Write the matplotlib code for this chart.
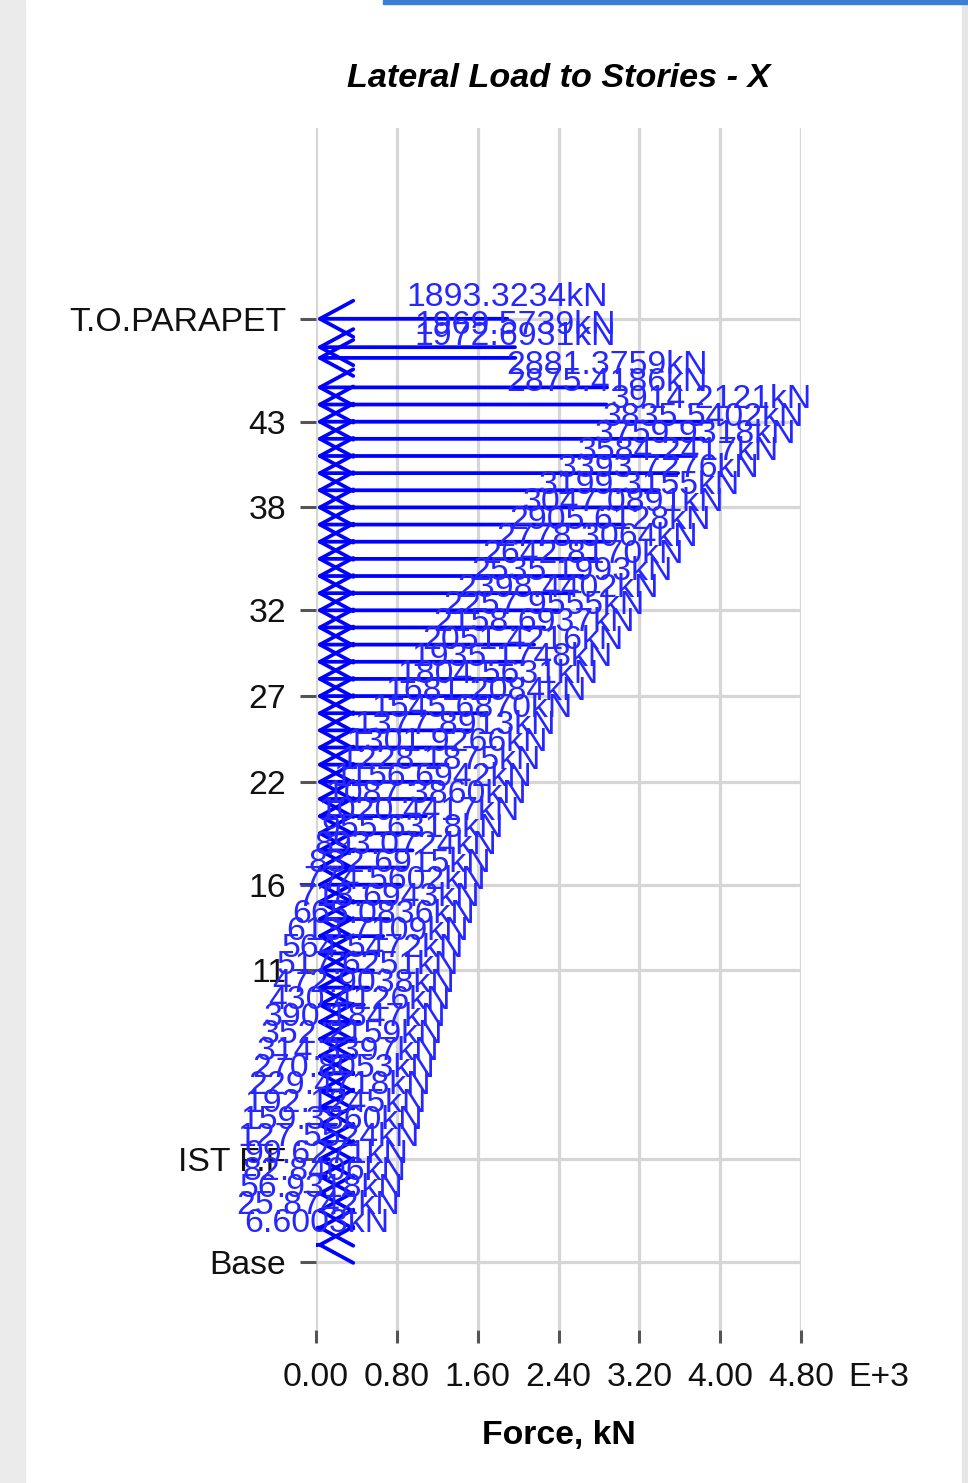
"""Lateral load to stories (X direction) drawn as story-level force arrows."""
import matplotlib
matplotlib.use("Agg")
import matplotlib.pyplot as plt
from matplotlib.patches import FancyArrowPatch, Rectangle
from matplotlib.ticker import FuncFormatter

OUT_PATH = "out.png"

# Elevation of every loaded level above Base, m (bottom to top)
elev = [3.2, 6.4, 9.6, 12.8, 16.0, 19.2, 22.4, 25.6, 28.8, 32.0,
        35.2, 38.4, 41.6, 44.8, 48.0, 51.2, 54.4, 57.6, 60.8, 64.0,
        67.2, 70.4, 73.6, 76.8, 80.0, 83.2, 86.4, 89.6, 92.8, 96.0,
        99.2, 102.4, 105.6, 108.8, 112.0, 115.2, 118.4, 121.6, 124.8, 128.0,
        131.2, 134.4, 137.6, 140.8, 144.0, 147.2, 150.4, 153.6, 156.8, 160.0,
        163.2, 168.7, 170.7, 176.0]

# Lateral force applied at each level, kN
force = [6.6003, 25.8742, 56.9318, 82.8406, 99.6271, 127.5524, 159.3860,
         192.1245, 229.4718, 270.8053, 314.3397, 352.2159, 390.1847,
         430.4126, 472.9038, 517.6251, 564.5472, 613.7109, 665.0836,
         718.6943, 774.5602, 832.6915, 893.0724, 955.6318, 1020.4417,
         1087.3860, 1156.6942, 1228.1875, 1301.9266, 1377.8913, 1545.6870,
         1681.2084, 1804.5631, 1935.1748, 2051.4216, 2158.6937, 2257.9555,
         2398.4402, 2535.1993, 2642.8170, 2778.3064, 2905.6128, 3047.0891,
         3199.3155, 3393.7276, 3584.2417, 3759.9318, 3835.5402, 3914.2121,
         2875.4186, 2881.3759, 1972.6931, 1969.5739, 1893.3234]

# Stories named on the vertical axis
tick_elev = [0.0, 19.2, 54.4, 70.4, 89.6, 105.6, 121.6, 140.8, 156.8, 176.0]
tick_names = ["Base", "IST F.F", "11", "16", "22", "27", "32", "38", "43",
              "T.O.PARAPET"]

# Force axis ticks, kN (labelled in thousands)
force_ticks = [0, 800, 1600, 2400, 3200, 4000, 4800]

W, H = 968, 1483
FS = 24.3
LOAD_BLUE = "#0000ff"
TEXT_BLUE = "#2626ff"


def px(x, y):
    """Pixel position from the top-left corner -> figure fraction."""
    return x / W, 1 - y / H


def main():
    plt.rcParams.update({
        "font.family": ["Liberation Sans", "DejaVu Sans"],
        "font.size": FS,
        "figure.dpi": 100,
        "savefig.dpi": 100,
    })

    fig = plt.figure(figsize=(W / 100, H / 100), facecolor="white")

    # page decoration: grey margins, blue frame line top right
    fig.patches.append(Rectangle((0, 0), 25 / W, 1, transform=fig.transFigure,
                                 color="#ebebeb", zorder=0))
    fig.patches.append(Rectangle((962 / W, 0), 6 / W, 1,
                                 transform=fig.transFigure,
                                 color="#e6e6e6", zorder=0))
    fig.patches.append(Rectangle(px(383, 4), 1 - 383 / W, 4 / H,
                                 transform=fig.transFigure,
                                 color="#3a7fd5", zorder=0))

    left, top = px(316, 128)
    right, bottom = px(801, 1330)
    ax = fig.add_axes([left, bottom, right - left, top - bottom])
    ax.set_xlim(0, 4800)
    ax.set_ylim(-12.69, 211.6)
    for s in ax.spines.values():
        s.set_visible(False)

    ax.set_xticks(force_ticks)
    ax.xaxis.set_major_formatter(FuncFormatter(lambda v, _: f"{v / 1000:.2f}"))
    ax.set_yticks(tick_elev, tick_names)
    ax.grid(True, color="#d6d6d6", linewidth=2.3)
    ax.set_axisbelow(True)
    ax.tick_params(axis="x", length=9.5, width=2.2, color="#555555",
                   pad=13.5, labelsize=FS, labelcolor="#111111")
    ax.tick_params(axis="y", length=11.5, width=2.2, color="#555555",
                   pad=10, labelsize=FS, labelcolor="#111111")

    # load arrows point back to the building line at x = 0
    for e, f in zip(elev, force):
        ax.add_patch(FancyArrowPatch(
            (f, e), (0, e), arrowstyle="->,head_length=24,head_width=13",
            mutation_scale=1, shrinkA=0, shrinkB=0,
            color=LOAD_BLUE, linewidth=2.7, zorder=2))

    for e, f in zip(elev, force):
        ax.annotate(f"{f:.4f}kN", xy=(f, e), xytext=(0, 9.5),
                    textcoords="offset points", ha="center", va="baseline",
                    fontsize=FS, color=TEXT_BLUE, zorder=3)

    fig.text(*px(559, 87), "Lateral Load to Stories - X", ha="center",
             va="baseline", fontsize=24.6, fontweight="bold",
             fontstyle="italic")
    fig.text(*px(848, 1386), "E+3", ha="left", va="baseline", fontsize=FS,
             color="#111111")
    fig.text(*px(559, 1444), "Force, kN", ha="center", va="baseline",
             fontsize=FS, fontweight="bold")

    fig.savefig(OUT_PATH)
    plt.close(fig)


if __name__ == "__main__":
    main()
